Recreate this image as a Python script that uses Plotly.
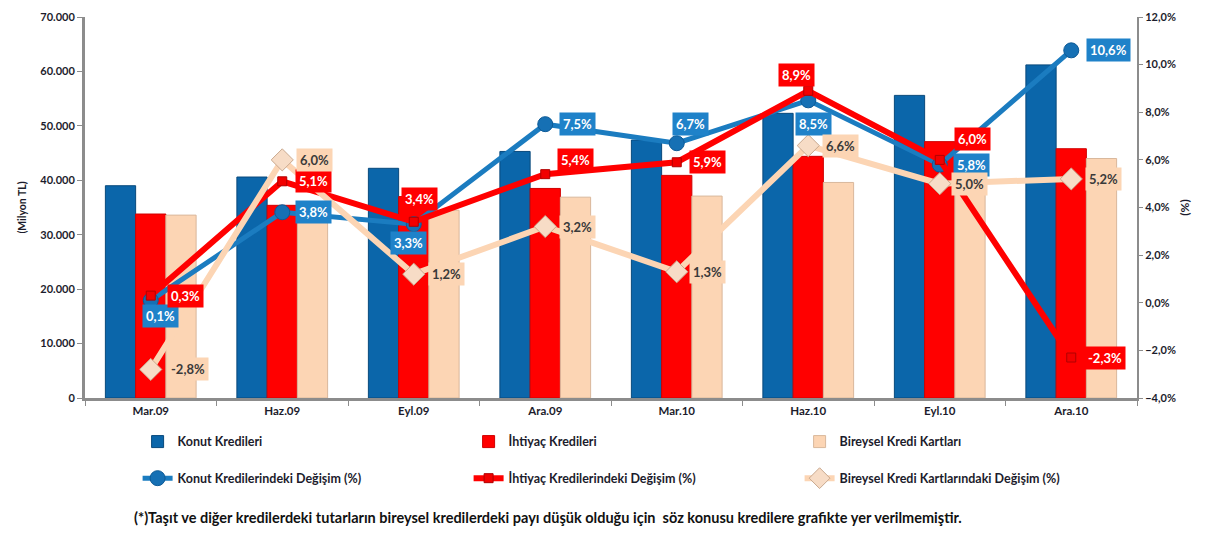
import plotly.graph_objects as go

# Quarterly periods
periods = ["Mar.09", "Haz.09", "Eyl.09", "Ara.09", "Mar.10", "Haz.10", "Eyl.10", "Ara.10"]

# Loan stocks (million TL)
konut = [39000, 40600, 42200, 45300, 47400, 52300, 55600, 61200]
ihtiyac = [33800, 35400, 37000, 38500, 40900, 44400, 47100, 45800]
kart = [33600, 34000, 34500, 36900, 37100, 39600, 41500, 44000]

# Quarterly change (%)
konut_deg = [0.1, 3.8, 3.3, 7.5, 6.7, 8.5, 5.8, 10.6]
ihtiyac_deg = [0.3, 5.1, 3.4, 5.4, 5.9, 8.9, 6.0, -2.3]
kart_deg = [-2.8, 6.0, 1.2, 3.2, 1.3, 6.6, 5.0, 5.2]

# Label offsets (pixels, dx right / dy down) relative to each marker
konut_off = [(10, 16), (31, 0), (-5, 19), (32, 0), (14, -19), (5, 24), (32, 0), (37, 0)]
ihtiyac_off = [(35, 0), (31, 0), (6, -23), (30, -14), (31, 0), (-12, -16), (33, -21), (34, 0)]
kart_off = [(37, 0), (32, 0), (33, 0), (32, 0), (31, 0), (32, 0), (30, 0), (32, 0)]

FONT = "Lato"
TXT = "#1c1c2c"
BLUE_BAR = "#0b66aa"
BLUE_LINE = "#1b7cc0"
BLUE_LBL = "#1f82c9"
RED = "#ff0000"
BEIGE = "#fcd5b4"

fig = go.Figure()

# Bars on the left axis
fig.add_bar(x=periods, y=konut, name="Konut Kredileri", marker=dict(color=BLUE_BAR, line=dict(color="#08497c", width=1)), legend="legend")
fig.add_bar(x=periods, y=ihtiyac, name="İhtiyaç Kredileri", marker=dict(color=RED, line=dict(color="#d00000", width=1)), legend="legend")
fig.add_bar(x=periods, y=kart, name="Bireysel Kredi Kartları", marker=dict(color=BEIGE, line=dict(color="#d9b89c", width=1)), legend="legend")

# Change lines on the right axis
fig.add_scatter(x=periods, y=konut_deg, yaxis="y2", name="Konut Kredilerindeki Değişim (%)", mode="lines+markers",
                line=dict(color=BLUE_LINE, width=5), marker=dict(symbol="circle", size=15, color="#1670b4", line=dict(color="#0d5a96", width=1)),
                legend="legend2")
fig.add_scatter(x=periods, y=ihtiyac_deg, yaxis="y2", name="İhtiyaç Kredilerindeki Değişim (%)", mode="lines+markers",
                line=dict(color=RED, width=6), marker=dict(symbol="square", size=9, color="#f20000", line=dict(color="#b00000", width=1)),
                legend="legend2")
fig.add_scatter(x=periods, y=kart_deg, yaxis="y2", name="Bireysel Kredi Kartlarındaki Değişim (%)", mode="lines+markers",
                line=dict(color=BEIGE, width=6), marker=dict(symbol="diamond", size=17, color="#f7dcc6", line=dict(color="#c9a98f", width=1)),
                legend="legend2")

# Value labels in coloured boxes
def add_labels(vals, offs, bg, fg):
    for p, v, (dx, dy) in zip(periods, vals, offs):
        fig.add_annotation(x=p, y=v, xref="x", yref="y2", text=f"{v:.1f}".replace(".", ",") + "%",
                           showarrow=False, xshift=dx, yshift=-dy, bgcolor=bg, borderpad=3,
                           font=dict(family=FONT, size=13, color=fg, weight="bold"))

add_labels(konut_deg, konut_off, BLUE_LBL, "white")
add_labels(ihtiyac_deg, ihtiyac_off, RED, "white")
add_labels(kart_deg, kart_off, BEIGE, "#3a3a3a")

# Footnote
fig.add_annotation(xref="paper", yref="paper", x=0.045, y=-0.314, xanchor="left", yanchor="middle", showarrow=False,
                   text="(*)Taşıt ve diğer kredilerdeki tutarların bireysel kredilerdeki payı düşük olduğu için  söz konusu kredilere grafikte yer verilmemiştir.",
                   font=dict(family=FONT, size=14.5, color="#111111", weight="bold"))

tickfont = dict(family=FONT, size=11, color=TXT, weight="bold")
xtickfont = dict(family=FONT, size=11.5, color=TXT, weight="bold")
legfont = dict(family=FONT, size=12.5, color=TXT, weight="bold")

fig.update_layout(
    width=1215, height=535,
    margin=dict(l=85, r=78, t=10, b=137),
    paper_bgcolor="white", plot_bgcolor="white",
    separators=",.",
    barmode="group", bargap=0.31, bargroupgap=0,
    font=dict(family=FONT, color=TXT),
    xaxis=dict(type="category", showline=True, linecolor="#8c8c8c", linewidth=3, ticks="outside",
               tickson="boundaries", ticklen=5, tickcolor="#8c8c8c", tickfont=xtickfont, showgrid=False),
    yaxis=dict(range=[0, 70000], dtick=10000, tickformat=",d", showline=True, linecolor="#8c8c8c", linewidth=3,
               ticks="outside", ticklen=5, tickcolor="#8c8c8c", tickfont=tickfont, showgrid=False, zeroline=False,
               title=dict(text="(Milyon TL)", font=dict(family=FONT, size=10.5, color=TXT, weight="bold"), standoff=12)),
    yaxis2=dict(overlaying="y", side="right", range=[-4, 12], dtick=2, tickformat=".1f", ticksuffix="%",
                showline=True, linecolor="#8c8c8c", linewidth=2, ticks="outside", ticklen=4, tickcolor="#8c8c8c",
                tickfont=tickfont, showgrid=False, zeroline=False,
                title=dict(text="(%)", font=dict(family=FONT, size=12, color=TXT, weight="bold"), standoff=6)),
    legend=dict(orientation="h", x=0.05, y=-0.076, xanchor="left", yanchor="top", font=legfont,
                entrywidth=286, entrywidthmode="pixels", itemwidth=30, bgcolor="rgba(0,0,0,0)"),
    legend2=dict(orientation="h", x=0.05, y=-0.172, xanchor="left", yanchor="top", font=legfont,
                 entrywidth=286, entrywidthmode="pixels", itemwidth=30, bgcolor="rgba(0,0,0,0)"),
    showlegend=True,
)

fig.write_html("out.html")
